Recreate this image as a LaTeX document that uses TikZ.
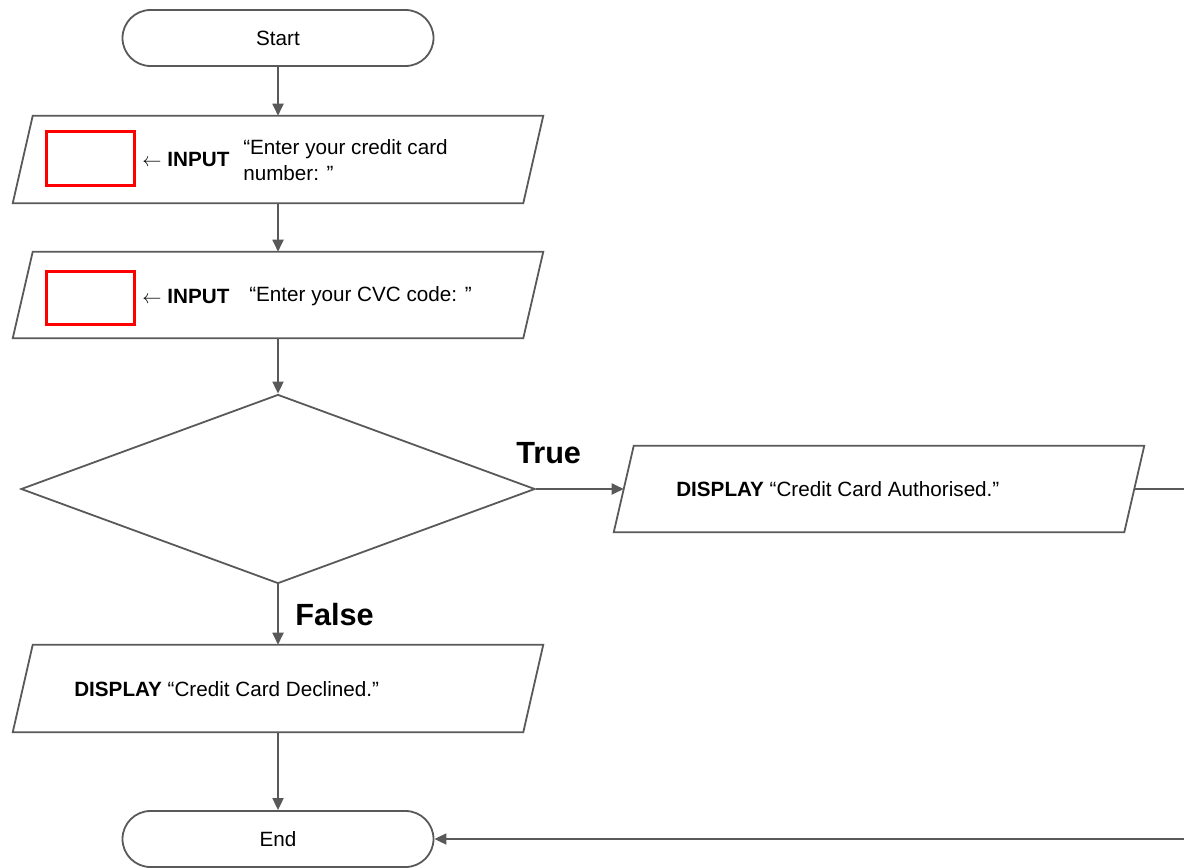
\documentclass[tikz,border=0pt]{standalone}
\usepackage{fontspec}
\setmainfont{Liberation Sans}
\usetikzlibrary{arrows.meta,shapes.geometric,calc}
\definecolor{linegray}{HTML}{595959}
\definecolor{boxred}{HTML}{FF0000}
\newcommand\pxu{0.75pt}
% slanted frame drawn around a rectangular anchor node
\newcommand\drawpara[1]{%
  \draw[line] ($(#1.south west)+(-10,0)$) -- ($(#1.north west)+(10,0)$)
    -- ($(#1.north east)+(10,0)$) -- ($(#1.south east)+(-10,0)$) -- cycle;}
\begin{document}
\begin{tikzpicture}[x=0.75pt,y=-0.75pt,
  line/.style={draw=linegray, line width=1.8*\pxu},
  arr/.style={line, -{Triangle[length=12*\pxu,width=11*\pxu]}},
  body/.style={font=\fontsize{15.5}{19.5}\selectfont, inner sep=0pt},
  term/.style={line, body, rounded corners=28*\pxu, minimum width=311*\pxu, minimum height=56*\pxu},
  paraframe/.style={minimum width=510*\pxu, minimum height=87*\pxu, inner sep=0pt},
  slot/.style={draw=boxred, line width=3*\pxu, minimum width=88*\pxu, minimum height=54*\pxu, inner sep=0pt},
  txt/.style={body, anchor=west, align=left},
  branch/.style={font=\fontsize{23}{26}\selectfont\bfseries, inner sep=0pt, anchor=west},
  decision/.style={line, diamond, minimum width=514*\pxu, minimum height=189*\pxu, inner sep=0pt}
]
\clip (0,0) rectangle (1184,867);

% terminators
\node[term] (start) at (278,38) {Start};
\node[term] (stop) at (278,839) {End};

% first input
\node[paraframe] (in1) at (278,159.5) {};
\drawpara{in1}
\node[slot] (slot1) at (90.5,158.5) {};
\node[txt] (in1op) at (142,159) {$\leftarrow$\hspace{4.5pt}\textbf{INPUT}};
\node[txt] (in1msg) at (243,160) {“Enter your credit card\\number: ”};

% second input
\node[paraframe, minimum height=86*\pxu] (in2) at (278,295) {};
\drawpara{in2}
\node[slot, minimum height=53*\pxu] (slot2) at (90.5,298) {};
\node[txt] (in2op) at (142,296) {$\leftarrow$\hspace{4.5pt}\textbf{INPUT}};
\node[txt] (in2msg) at (249,296) {“Enter your CVC code: ”};

% decision
\node[decision] (dec) at (278,489) {};

% outputs
\node[paraframe, minimum height=86*\pxu] (auth) at (879,489) {};
\drawpara{auth}
\node[txt] (authmsg) at (676,489) {\textbf{DISPLAY} “Credit Card Authorised.”};

\node[paraframe] (decl) at (278,688.5) {};
\drawpara{decl}
\node[txt] (declmsg) at (74,689) {\textbf{DISPLAY} “Credit Card Declined.”};

% branch labels
\node[branch] (truelbl) at (516,453) {True};
\node[branch] (falselbl) at (295,615) {False};

% connectors
\draw[arr] (start) -- (in1);
\draw[arr] (in1) -- (in2);
\draw[arr] (in2) -- (dec.north);
\draw[arr] (dec.east) -- (auth.west);
\draw[arr] (dec.south) -- (decl);
\draw[arr] (decl) -- (stop);
\coordinate (loop) at (1200,489);
\draw[arr] (auth.east) -- (loop) |- (stop.east);
\end{tikzpicture}
\end{document}
